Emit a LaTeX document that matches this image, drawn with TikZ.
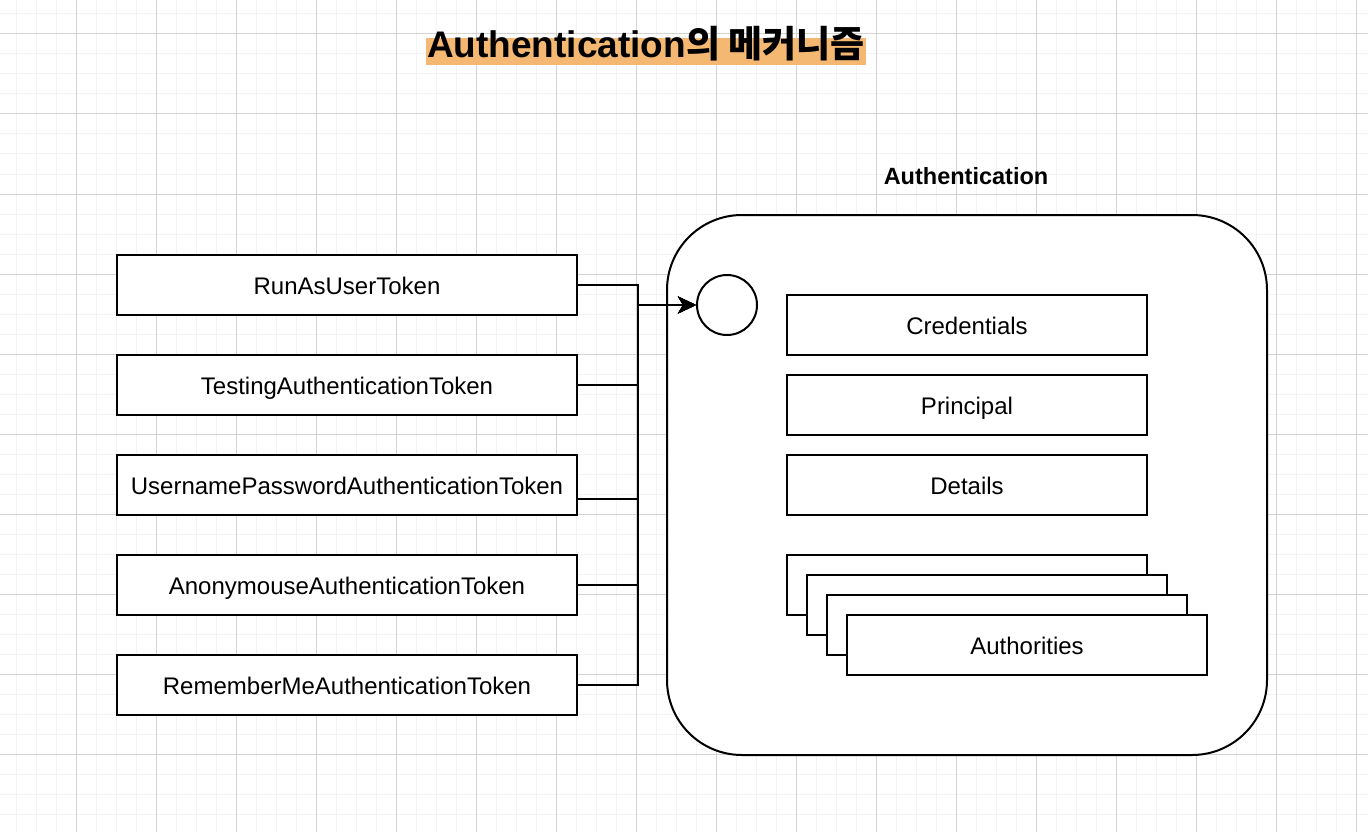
\documentclass[tikz,border=0pt]{standalone}
\usepackage{fontspec}
\setmainfont{Liberation Sans}
\newfontfamily\cjk{Noto Sans CJK KR}
\usetikzlibrary{arrows.meta}
\definecolor{hl}{HTML}{F5B872}
\definecolor{gminor}{HTML}{F3F3F3}
\definecolor{gmajor}{HTML}{D3D3D3}
\tikzset{
  box/.style={draw=black,line width=2pt,fill=white,minimum width=460pt,minimum height=60pt,inner sep=0pt,text height=22pt,text depth=3pt,font=\fontsize{24}{28}\selectfont},
  rbox/.style={box,minimum width=360pt},
  conn/.style={line width=2pt,-{Stealth[length=18pt,width=17pt,inset=5pt]}},
}
\begin{document}
\begin{tikzpicture}[x=1pt,y=-1pt]
\useasboundingbox (0,0) rectangle (1368,832);
\fill[white] (0,0) rectangle (1368,832);
% grid
\foreach \x in {16,36,...,1356} \draw[gminor,line width=1pt] (\x,0) -- (\x,832);
\foreach \y in {14,34,...,832} \draw[gminor,line width=1pt] (0,\y) -- (1368,\y);
\foreach \x in {76,156,...,1356} \draw[gmajor,line width=1pt] (\x,0) -- (\x,832);
\foreach \y in {34,114,...,832} \draw[gmajor,line width=1pt] (0,\y) -- (1368,\y);
% title
\fill[hl] (426,38) rectangle (866,65);
\node[anchor=base,inner sep=0pt,font=\fontsize{37}{44}\selectfont\bfseries] (title) at (646,58) {Authentication{\cjk\bfseries 의 메커니즘}};
% big container
\node[anchor=base,inner sep=0pt,font=\fontsize{23.5}{28}\selectfont\bfseries] (authlabel) at (966,184) {Authentication};
\draw[line width=2pt,fill=white,rounded corners=75pt] (667,215) rectangle (1267,755);
\node[draw,circle,line width=2pt,minimum size=60pt,inner sep=0pt,fill=white] (circ) at (727,305) {};
% left boxes
\node[box] (b1) at (347,285) {RunAsUserToken};
\node[box] (b2) at (347,385) {TestingAuthenticationToken};
\node[box] (b3) at (347,485) {UsernamePasswordAuthenticationToken};
\node[box] (b4) at (347,585) {AnonymouseAuthenticationToken};
\node[box] (b5) at (347,685) {RememberMeAuthenticationToken};
% connectors
\draw[conn] (b1.east) -- ++(60,0) |- (circ.west);
\draw[conn] (b2.east) -- ++(60,0) |- (circ.west);
\draw[conn] ([yshift=-14pt]b3.east) -- ++(60,0) |- (circ.west);
\draw[conn] (b4.east) -- ++(60,0) |- (circ.west);
\draw[conn] (b5.east) -- ++(60,0) |- (circ.west);
% right boxes
\node[rbox] (cred) at (967,325) {Credentials};
\node[rbox] (prin) at (967,405) {Principal};
\node[rbox] (det) at (967,485) {Details};
\node[rbox] (a1) at (967,585) {};
\node[rbox] (a2) at (987,605) {};
\node[rbox] (a3) at (1007,625) {};
\node[rbox] (a4) at (1027,645) {Authorities};
\end{tikzpicture}
\end{document}
